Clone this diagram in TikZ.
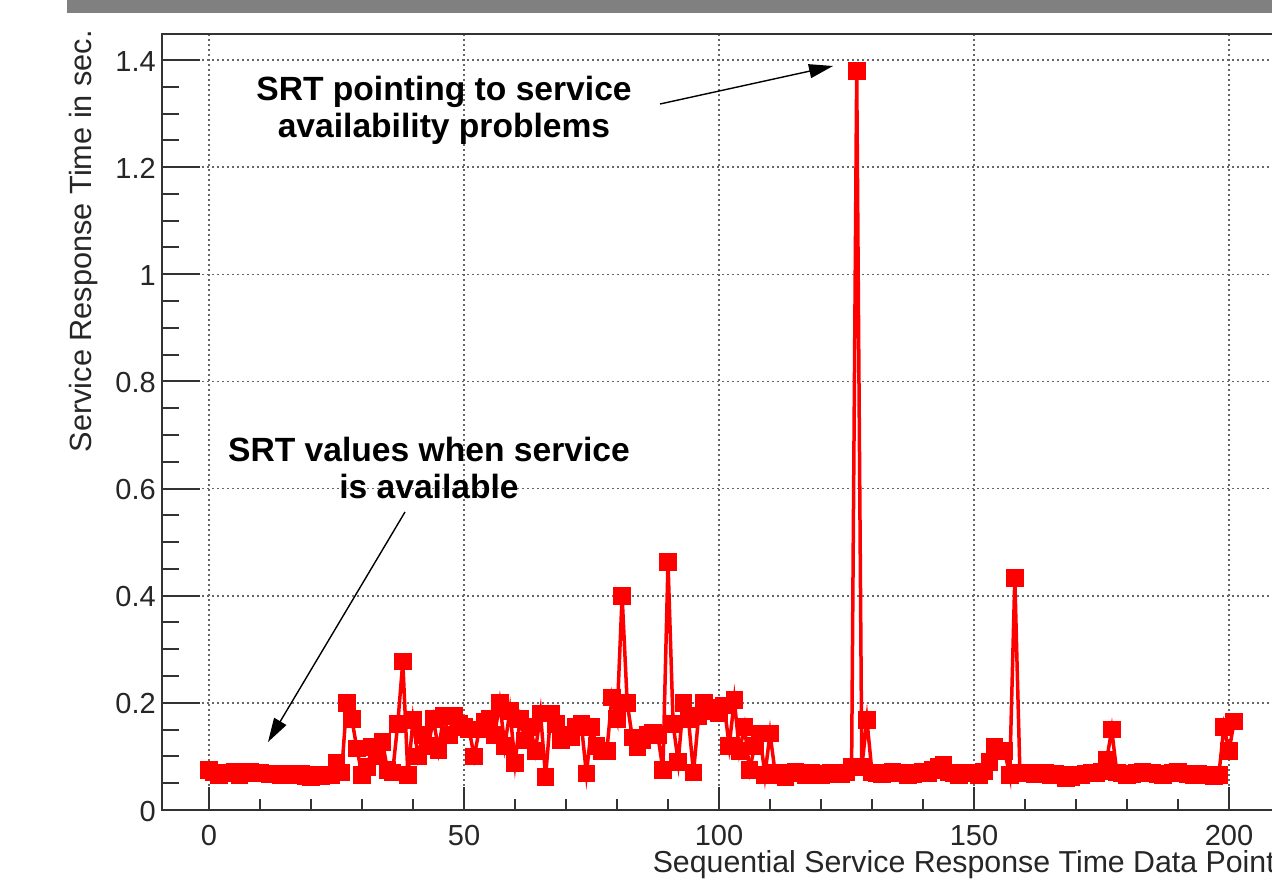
\documentclass[tikz,border=0pt]{standalone}
\usepackage{fontspec}
\setmainfont{Liberation Sans}
\usetikzlibrary{arrows.meta,plotmarks}
\begin{document}
\begin{tikzpicture}[x=1pt,y=-1pt,
  frame/.style={line width=2pt,draw=black!80},
  gridl/.style={line width=1.6pt,draw=black!60,dash pattern=on 1.6pt off 3.4pt},
  ticklab/.style={font=\fontsize{29}{34}\selectfont,inner sep=0pt,text=black!85},
  axtitle/.style={font=\fontsize{30.7}{36}\selectfont,inner sep=0pt,text=black!85},
  xaxtitle/.style={font=\fontsize{30.3}{36}\selectfont,inner sep=0pt,text=black!85},
  annot/.style={font=\fontsize{33.6}{37}\selectfont\bfseries,align=center,inner sep=0pt},
  annarrow/.style={line width=1.4pt,-{Triangle[length=24pt,width=14pt]}},
  srt/.style={red,line width=3.5pt}]
\useasboundingbox (0,0) rectangle (1272,891);
\clip (0,0) rectangle (1272,891);
\fill[white] (0,0) rectangle (1272,891);
\fill[black!50] (67,0) rectangle (1272,13);

% grid
\foreach \gx in {0,50,100,150,200}
  \draw[gridl] ({209+5.1*\gx},34) -- ({209+5.1*\gx},810);
\foreach \gy in {0.2,0.4,0.6,0.8,1,1.2,1.4}
  \draw[gridl] (162,{810-535.7*\gy}) -- (1290,{810-535.7*\gy});

% ticks
\foreach \k in {0,...,28}
  \draw[frame] (162,{810-535.7*0.05*\k}) -- (179,{810-535.7*0.05*\k});
\foreach \gy in {0,0.2,0.4,0.6,0.8,1,1.2,1.4}
  \draw[frame] (162,{810-535.7*\gy}) -- (200,{810-535.7*\gy});
\foreach \k in {0,...,21}
  \draw[frame] ({209+51*\k},810) -- ({209+51*\k},799);
\foreach \gx in {0,50,100,150,200}
  \draw[frame] ({209+5.1*\gx},810) -- ({209+5.1*\gx},787);

% frame
\draw[frame] (1290,34) -- (162,34) -- (162,810) -- (1290,810);

% tick labels
\foreach \v/\t [count=\n] in {0/0,0.2/0.2,0.4/0.4,0.6/0.6,0.8/0.8,1/1,1.2/1.2,1.4/1.4}
  \node[ticklab,anchor=base east] (ytick\n) at (156,{810-535.7*\v+11}) {\t};
\foreach \v [count=\n] in {0,50,100,150,200}
  \node[ticklab,anchor=base] (xtick\n) at ({209+5.1*\v},845) {\v};

% axis titles
\node[axtitle,rotate=90,anchor=base east] (ytitle) at (91,30) {Service Response Time in sec.};
\node[xaxtitle,anchor=base east] (xtitle) at (1275,872) {Sequential Service Response Time Data Point};

% data
\begin{scope}[shift={(209,810)}]
\begin{scope}[x=5.1pt,y=535.7pt]
\draw[srt] plot[mark=square*,mark size=8.3pt,mark options={fill=red,draw=red,line width=0pt}] coordinates {
(0,0.075) (1,0.07) (2,0.065) (3,0.07) (4,0.068) (5,0.072) (6,0.065) (7,0.07) (8,0.072) (9,0.068)
(10,0.07) (11,0.068) (12,0.066) (13,0.067) (14,0.065) (15,0.068) (16,0.066) (17,0.065) (18,0.068) (19,0.064)
(20,0.062) (21,0.065) (22,0.063) (23,0.066) (24,0.065) (25,0.088) (26,0.07) (27,0.20) (28,0.17) (29,0.115)
(30,0.065) (31,0.08) (32,0.118) (33,0.10) (34,0.127) (35,0.075) (36,0.07) (37,0.16) (38,0.277) (39,0.065)
(40,0.168) (41,0.10) (42,0.14) (43,0.12) (44,0.17) (45,0.112) (46,0.175) (47,0.14) (48,0.175) (49,0.16)
(50,0.155) (51,0.15) (52,0.10) (53,0.15) (54,0.165) (55,0.17) (56,0.14) (57,0.20) (58,0.12) (59,0.185)
(60,0.088) (61,0.17) (62,0.13) (63,0.155) (64,0.11) (65,0.18) (66,0.062) (67,0.18) (68,0.16) (69,0.13)
(70,0.14) (71,0.135) (72,0.155) (73,0.16) (74,0.068) (75,0.155) (76,0.12) (77,0.11) (78,0.11) (79,0.21)
(80,0.17) (81,0.40) (82,0.20) (83,0.135) (84,0.118) (85,0.13) (86,0.14) (87,0.145) (88,0.14) (89,0.075)
(90,0.463) (91,0.16) (92,0.09) (93,0.20) (94,0.17) (95,0.07) (96,0.175) (97,0.20) (98,0.185) (99,0.19)
(100,0.18) (101,0.195) (102,0.12) (103,0.205) (104,0.11) (105,0.155) (106,0.075) (107,0.12) (108,0.143) (109,0.065)
(110,0.143) (111,0.07) (112,0.065) (113,0.062) (114,0.07) (115,0.072) (116,0.068) (117,0.065) (118,0.07) (119,0.068)
(120,0.065) (121,0.066) (122,0.07) (123,0.068) (124,0.066) (125,0.07) (126,0.08) (127,1.38) (128,0.08) (129,0.168)
(130,0.07) (131,0.068) (132,0.066) (133,0.07) (134,0.072) (135,0.068) (136,0.07) (137,0.065) (138,0.066) (139,0.07)
(140,0.072) (141,0.068) (142,0.075) (143,0.08) (144,0.085) (145,0.07) (146,0.068) (147,0.065) (148,0.07) (149,0.068)
(150,0.07) (151,0.065) (152,0.072) (153,0.09) (154,0.118) (155,0.11) (156,0.11) (157,0.065) (158,0.433) (159,0.07)
(160,0.068) (161,0.07) (162,0.066) (163,0.068) (164,0.07) (165,0.065) (166,0.068) (167,0.066) (168,0.06) (169,0.062)
(170,0.066) (171,0.065) (172,0.068) (173,0.07) (174,0.068) (175,0.072) (176,0.093) (177,0.15) (178,0.07) (179,0.068)
(180,0.065) (181,0.066) (182,0.07) (183,0.072) (184,0.068) (185,0.07) (186,0.066) (187,0.065) (188,0.068) (189,0.07)
(190,0.072) (191,0.068) (192,0.066) (193,0.065) (194,0.068) (195,0.066) (196,0.065) (197,0.064) (198,0.065) (199,0.155)
(200,0.11) (201,0.165)};
\end{scope}
\end{scope}

% annotations
\node[annot] (ann1) at (444,110) {SRT pointing to service\\availability problems};
\node[annot] (ann2) at (429,468) {SRT values when service\\is available};
\coordinate (a1s) at (660,104);
\coordinate (a1e) at (833,66);
\coordinate (a2s) at (405,512);
\coordinate (a2e) at (268,742);
\draw[annarrow] (a1s) -- (a1e);
\draw[annarrow] (a2s) -- (a2e);
\end{tikzpicture}
\end{document}
